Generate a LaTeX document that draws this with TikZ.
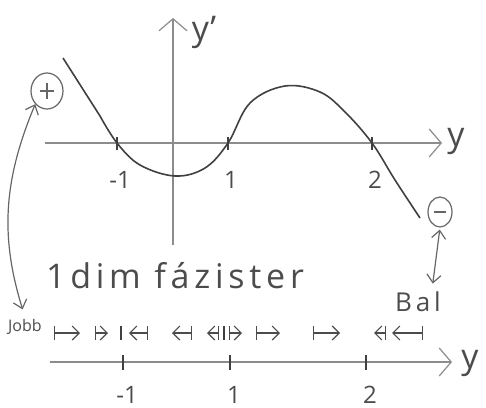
\documentclass[tikz,border=0pt]{standalone}
\usepackage{fontspec}
\setmainfont{Open Sans}
\usetikzlibrary{arrows.meta,shapes.geometric}

\begin{document}
\begin{tikzpicture}[x=0.5pt,y=-0.5pt,
  >={Straight Barb[length=6pt,width=14pt]},
  axis/.style={black!45,line width=0.6pt},
  pencil/.style={black!75,line width=0.8pt},
  hand/.style={text=black!70,inner sep=1pt},
  sign/.style={draw=black!60,ellipse,inner sep=0pt,line width=0.6pt},
  dbl/.style={black!60,line width=0.6pt,{Straight Barb[length=4pt,width=7pt]}-{Straight Barb[length=4pt,width=7pt]}},
  flow/.style={black!70,line width=0.6pt,{Bar[width=7pt]}-{Straight Barb[length=3.5pt,width=7pt]}}]
  \useasboundingbox (0,0) rectangle (486,407);
  % phase plot y' against y
  \draw[axis,->] (45,143) -- (442,143);
  \draw[axis,->] (173,245) -- (173,18);
  \node[hand,font=\fontsize{17}{20}\selectfont] (ylab) at (456,141) {y};
  \node[hand,font=\fontsize{17}{20}\selectfont] (ydlab) at (204,32) {y'};
  \foreach \x/\t [count=\i] in {117/-1,228/1,372/2} {
    \draw[pencil] (\x,137) -- (\x,150);
    \node[hand,font=\fontsize{12}{14}\selectfont] (top\i) at (\x+3,180) {\t};
  }
  \draw[pencil] (63,58) -- (100,116) plot[smooth,tension=0.6] coordinates
    {(100,116) (117,143) (140,165) (175,176) (205,168) (228,143) (250,103)
     (285,86) (320,92) (345,112) (372,143) (395,180) (420,218)};
  \node[sign,minimum width=16pt,minimum height=18pt] (plus) at (47,91) {};
  \draw[black!60,line width=0.6pt] (40,91) -- (54,91) (47,83) -- (47,99);
  \node[sign,minimum width=12pt,minimum height=15pt] (minus) at (440,212) {};
  \draw[black!60,line width=0.6pt] (434,212) -- (446,212);
  % labels of the phase line
  \node[hand,font=\fontsize{17}{20}\selectfont\addfontfeatures{LetterSpace=14}] (title) at (175,276) {1dim fázister};
  \node[hand,font=\fontsize{13}{15}\selectfont\addfontfeatures{LetterSpace=15}] (bal) at (418,302) {Bal};
  \node[hand,font=\fontsize{8}{10}\selectfont] (jobb) at (25,327) {Jobb};
  \draw[dbl,shorten <=4pt] (jobb.north) to[bend left=20] (plus.south west);
  \draw[dbl,shorten <=3pt,shorten >=1pt] (bal.north) ++(14,0) -- (minus.south);
  % phase line
  \draw[axis,->] (50,362) -- (452,362);
  \node[hand,font=\fontsize{17}{20}\selectfont] (ylab2) at (470,363) {y};
  \foreach \x/\t [count=\i] in {123/-1,230/1,366/2} {
    \draw[pencil] (\x,355) -- (\x,370);
    \node[hand,font=\fontsize{12}{14}\selectfont] (bot\i) at (\x+4,395) {\t};
  }
  \foreach \a/\b in {54/80,95/108,148/129,192/172,219/207,229/242,256/280,313/340,386/374,423/392}
    \draw[flow] (\a,333) -- (\b,333);
  \foreach \x in {121,224}
    \draw[pencil] (\x,326) -- (\x,340);
\end{tikzpicture}
\end{document}
